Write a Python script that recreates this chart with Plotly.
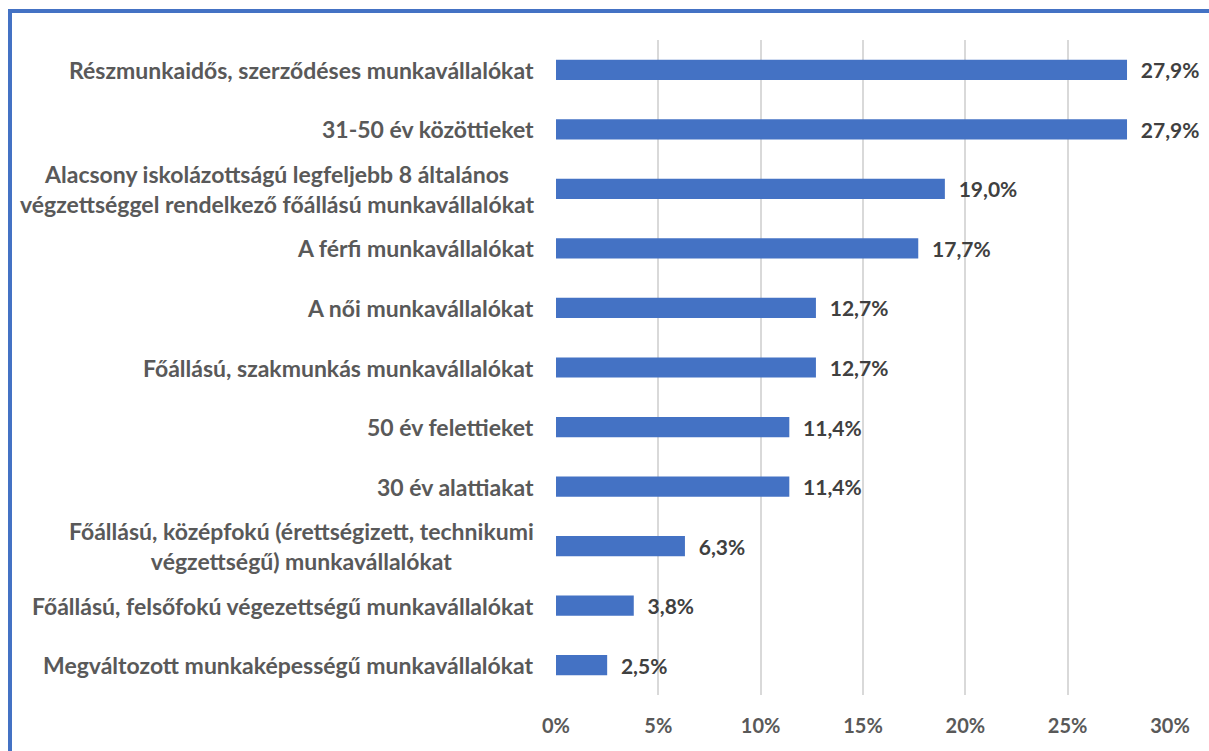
import plotly.graph_objects as go

categories = [
    "Részmunkaidős, szerződéses munkavállalókat",
    "31-50 év közöttieket",
    "Alacsony iskolázottságú legfeljebb 8 általános<br>végzettséggel rendelkező főállású munkavállalókat",
    "A férfi munkavállalókat",
    "A női munkavállalókat",
    "Főállású, szakmunkás munkavállalókat",
    "50 év felettieket",
    "30 év alattiakat",
    "Főállású, középfokú (érettségizett, technikumi<br>végzettségű) munkavállalókat",
    "Főállású, felsőfokú végezettségű munkavállalókat",
    "Megváltozott munkaképességű munkavállalókat",
]
values = [27.9, 27.9, 19.0, 17.7, 12.7, 12.7, 11.4, 11.4, 6.3, 3.8, 2.5]
tick_vals = [0, 5, 10, 15, 20, 25, 30]

FONT = "Lato"
LABEL_COLOR = "#595959"

fig = go.Figure(
    go.Bar(
        x=values,
        y=categories,
        orientation="h",
        marker=dict(color="#4472C4", line=dict(width=0)),
        width=0.34,
        texttemplate="\u00a0\u00a0<b>%{x:.1f}%</b>",
        textposition="outside",
        constraintext="none",
        textfont=dict(family=FONT, size=21, color="#404040"),
        cliponaxis=False,
        hoverinfo="skip",
    )
)

annotations = [
    dict(
        x=0, xref="x", y=c, yref="y",
        text="<b>%s</b>" % c,
        showarrow=False,
        xanchor="right", yanchor="middle",
        align="center",
        xshift=-20,
        font=dict(family=FONT, size=23, color=LABEL_COLOR),
    )
    for c in categories
]

fig.update_layout(
    width=1209, height=751,
    margin=dict(l=556, r=39, t=40, b=56),
    paper_bgcolor="white", plot_bgcolor="white",
    separators=", ",
    showlegend=False,
    annotations=annotations,
    xaxis=dict(
        range=[0, 30],
        tickvals=tick_vals,
        ticktext=["<b>%d%%</b>" % v for v in tick_vals],
        showgrid=True, gridcolor="#D9D9D9", gridwidth=2,
        zeroline=False, showline=False, ticks="",
        tickfont=dict(family=FONT, size=20, color=LABEL_COLOR),
        ticklabelstandoff=17,
        fixedrange=True,
    ),
    yaxis=dict(
        autorange="reversed",
        showticklabels=False,
        showgrid=False, zeroline=False, showline=False, ticks="",
        fixedrange=True,
    ),
    shapes=[
        dict(type="line", xref="paper", yref="paper",
             x0=(10 - 556) / 614, x1=(10 - 556) / 614,
             y0=(695 - 11) / 655, y1=-0.2,
             line=dict(color="#4472C4", width=4)),
        dict(type="line", xref="paper", yref="paper",
             x0=(8 - 556) / 614, x1=(1215 - 556) / 614,
             y0=(695 - 11) / 655, y1=(695 - 11) / 655,
             line=dict(color="#4472C4", width=4)),
    ],
)

fig.write_html("out.html", config={"displayModeBar": False},
               post_script="document.body.style.margin='0';")
